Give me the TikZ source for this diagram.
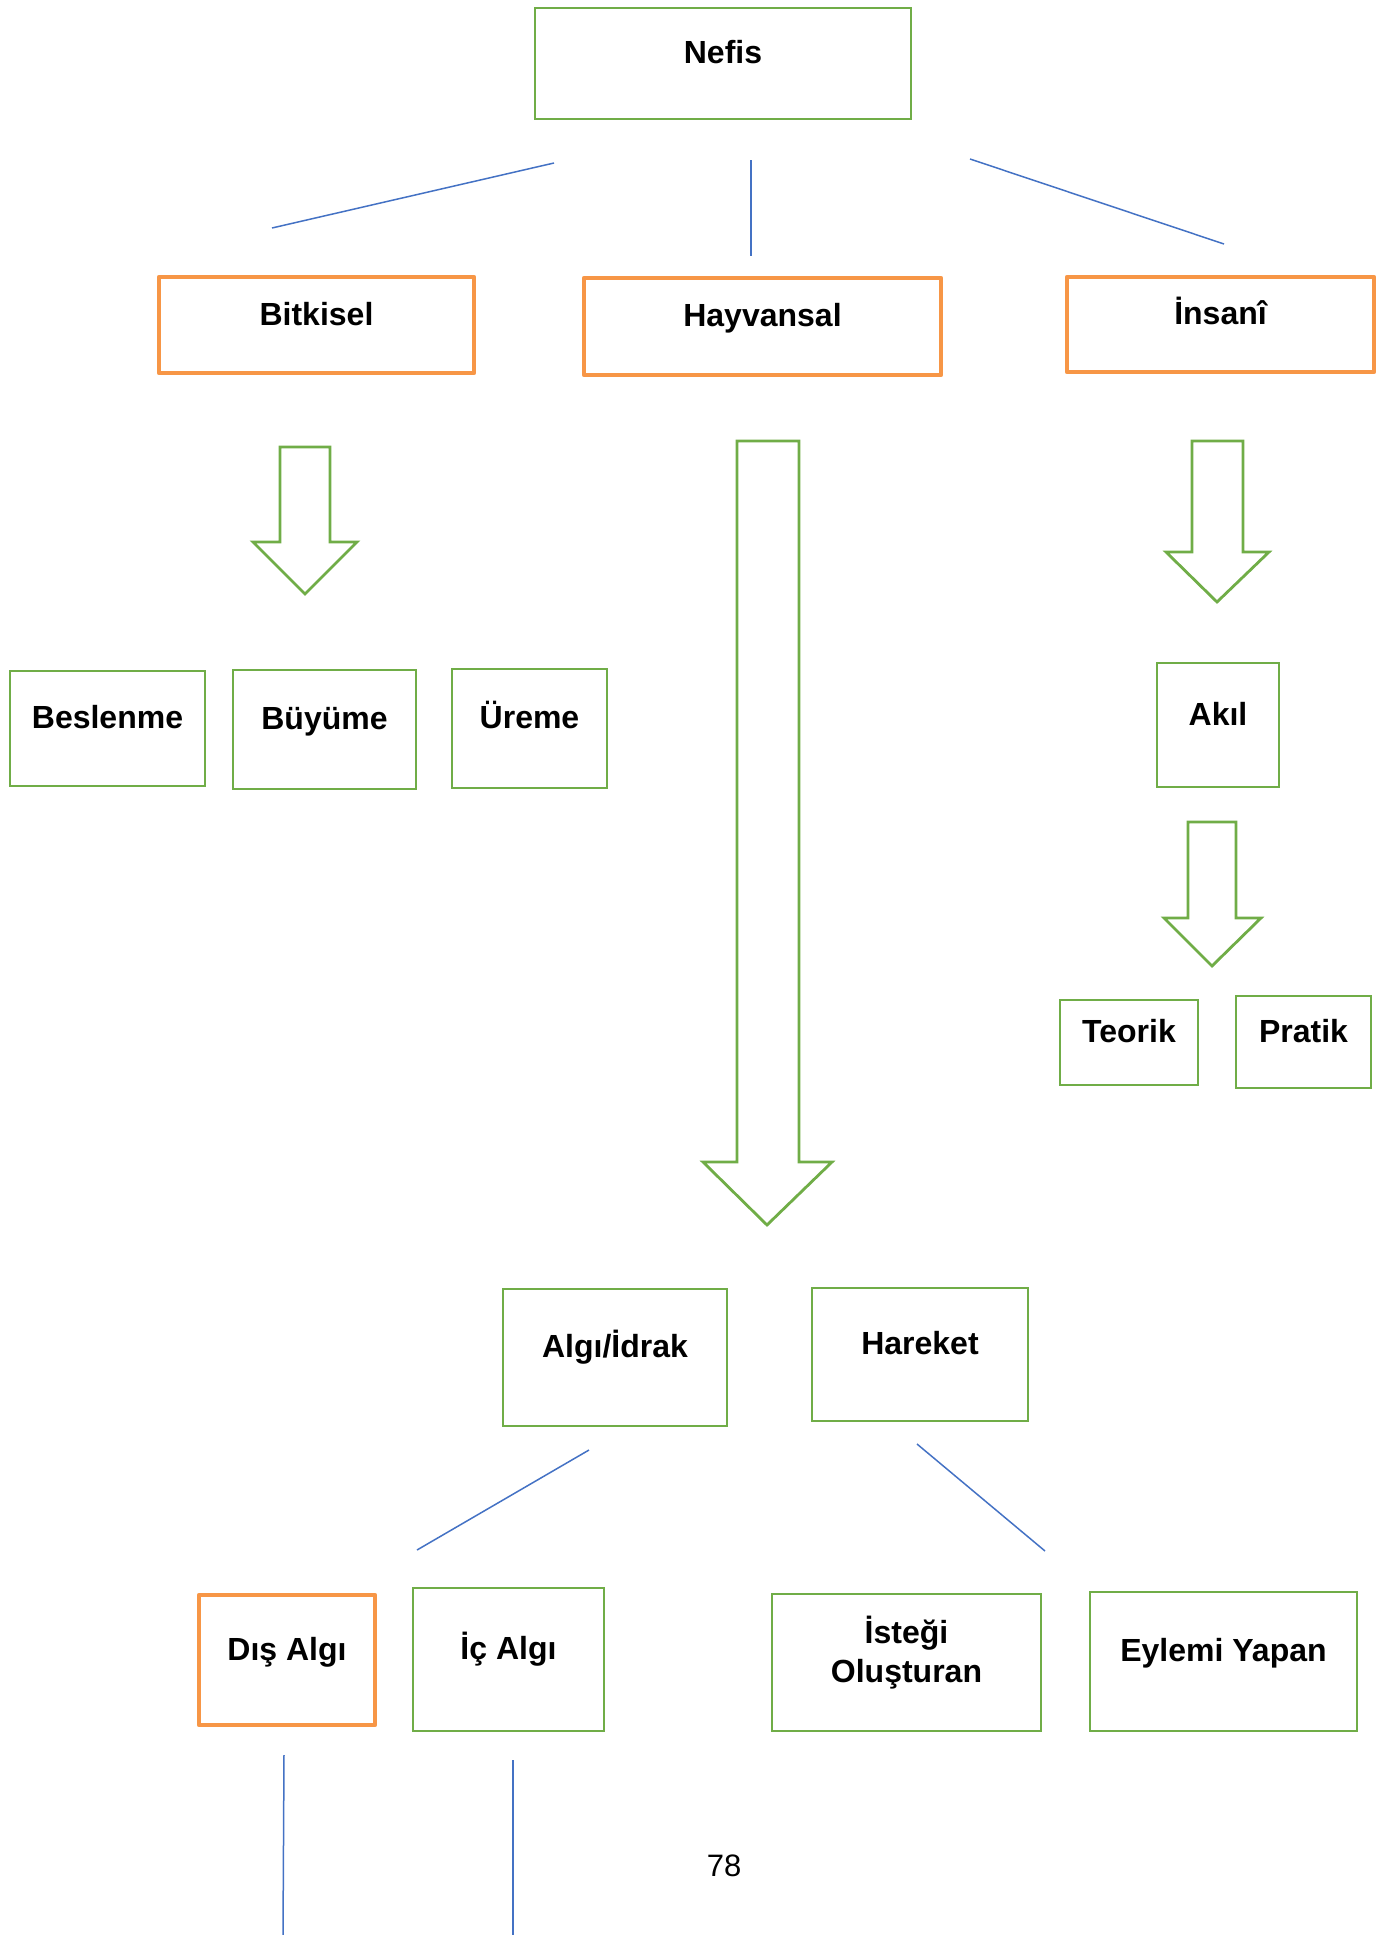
\documentclass[tikz,border=0pt]{standalone}
\usepackage{fontspec}
\setmainfont{Liberation Sans}
\usepackage{xcolor}
\usetikzlibrary{positioning}

\definecolor{kutuyesil}{HTML}{70AD47}
\definecolor{kututuruncu}{HTML}{F79646}
\definecolor{cizgimavi}{HTML}{4472C4}

\tikzset{
  kutu/.style={rectangle, draw=kutuyesil, line width=2.8pt, inner sep=0pt,
    font=\fontsize{32}{39}\selectfont\bfseries, text height=24pt, text depth=24pt},
  turuncukutu/.style={kutu, draw=kututuruncu, line width=4.8pt, line join=round},
  cizgi/.style={draw=cizgimavi, line width=1.5pt},
  blokok/.style={draw=kutuyesil, line width=2.8pt, line join=miter}
}

\begin{document}
\begin{tikzpicture}[x=1pt, y=-1pt]
    \useasboundingbox (0,0) rectangle (1391,1935);

    % ust kutular
    \node[kutu, minimum width=376pt, minimum height=111pt] (nefis) at (723,63.5) {Nefis};
    \node[turuncukutu, minimum width=315pt, minimum height=96pt] (bitkisel) at (316.5,325) {Bitkisel};
    \node[turuncukutu, minimum width=357pt, minimum height=97pt] (hayvansal) at (762.5,326.5) {Hayvansal};
    \node[turuncukutu, minimum width=307pt, minimum height=95pt] (insani) at (1220.5,324.5) {İnsanî};

    % ayirici cizgiler
    \coordinate (c1a) at (554,163);  \coordinate (c1b) at (272,228);
    \coordinate (c2a) at (751,160);  \coordinate (c2b) at (751,256);
    \coordinate (c3a) at (970,159);  \coordinate (c3b) at (1224,244);
    \draw[cizgi] (c1a) -- (c1b);
    \draw[cizgi] (c2a) -- (c2b);
    \draw[cizgi] (c3a) -- (c3b);

    % blok oklar
    \draw[blokok] (280,447) -- (330,447) -- (330,542) -- (357,542) -- (305,594)
        -- (253,542) -- (280,542) -- cycle;
    \draw[blokok] (737,441) -- (799,441) -- (799,1162) -- (832,1162) -- (767,1225)
        -- (703,1162) -- (737,1162) -- cycle;
    \draw[blokok] (1192,441) -- (1243,441) -- (1243,552) -- (1269,552) -- (1217,602)
        -- (1166,552) -- (1192,552) -- cycle;
    \draw[blokok] (1188,822) -- (1236,822) -- (1236,918) -- (1261,918) -- (1212,966)
        -- (1164,918) -- (1188,918) -- cycle;

    % bitkisel nefis
    \node[kutu, minimum width=195pt, minimum height=115pt] (beslenme) at (107.5,728.5) {Beslenme};
    \node[kutu, minimum width=183pt, minimum height=119pt] (buyume) at (324.5,729.5) {Büyüme};
    \node[kutu, minimum width=155pt, minimum height=119pt] (ureme) at (529.5,728.5) {Üreme};

    % insani nefis
    \node[kutu, minimum width=122pt, minimum height=124pt] (akil) at (1218,725) {Akıl};
    \node[kutu, minimum width=138pt, minimum height=85pt] (teorik) at (1129,1042.5) {Teorik};
    \node[kutu, minimum width=135pt, minimum height=92pt] (pratik) at (1303.5,1042) {Pratik};

    % hayvansal nefis
    \node[kutu, minimum width=224pt, minimum height=137pt] (algi) at (615,1357.5) {Algı/İdrak};
    \node[kutu, minimum width=216pt, minimum height=133pt] (hareket) at (920,1354.5) {Hareket};

    \coordinate (c4a) at (589,1450);  \coordinate (c4b) at (417,1550);
    \coordinate (c5a) at (917,1444);  \coordinate (c5b) at (1045,1551);
    \draw[cizgi] (c4a) -- (c4b);
    \draw[cizgi] (c5a) -- (c5b);

    \node[turuncukutu, minimum width=176pt, minimum height=130pt] (disalgi) at (287,1660) {Dış Algı};
    \node[kutu, minimum width=191pt, minimum height=143pt] (icalgi) at (508.5,1659.5) {İç Algı};
    \node[kutu, align=center, text height=63pt, text depth=24pt,
        minimum width=269pt, minimum height=137pt] (istek) at (906.5,1662.5) {İsteği\\Oluşturan};
    \node[kutu, minimum width=267pt, minimum height=139pt] (eylem) at (1223.5,1661.5) {Eylemi Yapan};

    \coordinate (c6a) at (284,1755);  \coordinate (c6b) at (283,1935);
    \coordinate (c7a) at (513,1760);  \coordinate (c7b) at (513,1935);
    \draw[cizgi] (c6a) -- (c6b);
    \draw[cizgi] (c7a) -- (c7b);

    % sayfa numarasi
    \node[font=\fontsize{31}{39}\selectfont] (sayfa) at (724,1866) {78};
\end{tikzpicture}
\end{document}
